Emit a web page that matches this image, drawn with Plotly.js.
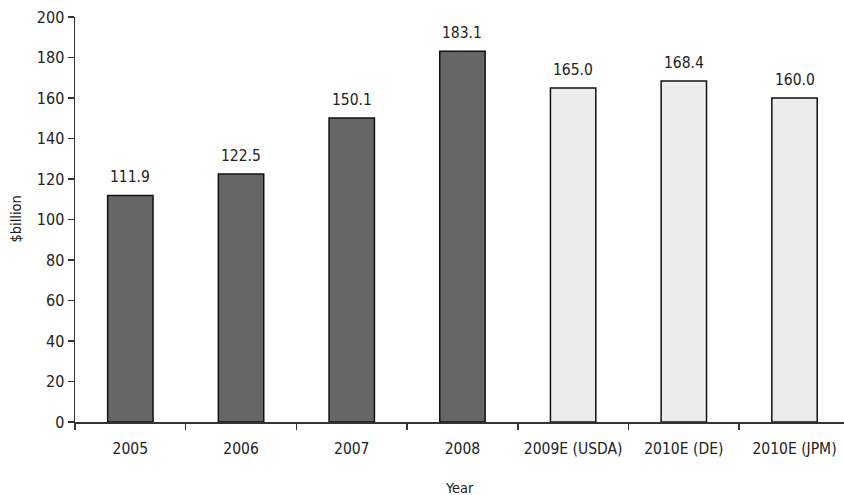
<!DOCTYPE html>
<html>
<head>
<meta charset="utf-8">
<script src="https://cdn.plot.ly/plotly-3.0.1.min.js"></script>
<style>html,body{margin:0;padding:0;background:#fff;}#chart{width:844px;height:495px;}</style>
</head>
<body>
<div id="chart"></div>
<script>
// Annual values in $billion; the last three are estimates
const categories = ['2005', '2006', '2007', '2008', '2009E (USDA)', '2010E (DE)', '2010E (JPM)'];
const values = [111.9, 122.5, 150.1, 183.1, 165.0, 168.4, 160.0];
const isEstimate = [false, false, false, false, true, true, true];
const xTitle = 'Year';
const yTitle = '$billion';

const FONT = 'DejaVu Sans Condensed, Liberation Sans Narrow, Arial Narrow, sans-serif';

const trace = {
  type: 'bar',
  x: categories,
  y: values,
  width: 0.41,
  marker: {
    color: isEstimate.map(e => e ? '#ececec' : '#666666'),
    line: {color: '#111111', width: 1.5}
  },
  hoverinfo: 'x+y'
};

// value labels above each bar (category index used as the x position)
const annotations = categories.map((c, i) => ({
  x: i, y: values[i], xref: 'x', yref: 'y',
  text: values[i].toFixed(1),
  showarrow: false, yanchor: 'bottom', yshift: 7,
  font: {family: FONT, size: 15.5, color: '#222'}
}));

// axis titles placed in paper coordinates
annotations.push({
  x: 0.5, y: 0, xref: 'paper', yref: 'paper', yanchor: 'middle', yshift: -66,
  text: xTitle, showarrow: false,
  font: {family: FONT, size: 14.5, color: '#222'}
});
annotations.push({
  x: 0, y: 0.5, xref: 'paper', yref: 'paper', xanchor: 'center', xshift: -60,
  text: yTitle, textangle: -90, showarrow: false,
  font: {family: FONT, size: 14.5, color: '#222'}
});

const layout = {
  width: 844, height: 495,
  margin: {l: 75, r: 0, t: 17, b: 73},
  paper_bgcolor: '#fff', plot_bgcolor: '#fff',
  showlegend: false,
  font: {family: FONT, size: 15.5, color: '#222'},
  xaxis: {
    type: 'category',
    categoryorder: 'array', categoryarray: categories,
    range: [-0.5, 6.447],
    tickson: 'boundaries',
    ticks: 'outside', ticklen: 6, tickwidth: 1.5, tickcolor: '#333',
    showline: true, linecolor: '#333', linewidth: 1.5,
    showgrid: false, zeroline: false,
    tickangle: 0,
    ticklabelstandoff: 12,
    tickfont: {family: FONT, size: 15.5, color: '#222'}
  },
  yaxis: {
    range: [0, 200], dtick: 20,
    ticks: 'outside', ticklen: 6, tickwidth: 1.5, tickcolor: '#333',
    showline: true, linecolor: '#333', linewidth: 1.5,
    showgrid: false, zeroline: false,
    tickfont: {family: FONT, size: 16, color: '#222'}
  },
  annotations: annotations
};

Plotly.newPlot('chart', [trace], layout, {displayModeBar: false, staticPlot: true});
</script>
</body>
</html>
